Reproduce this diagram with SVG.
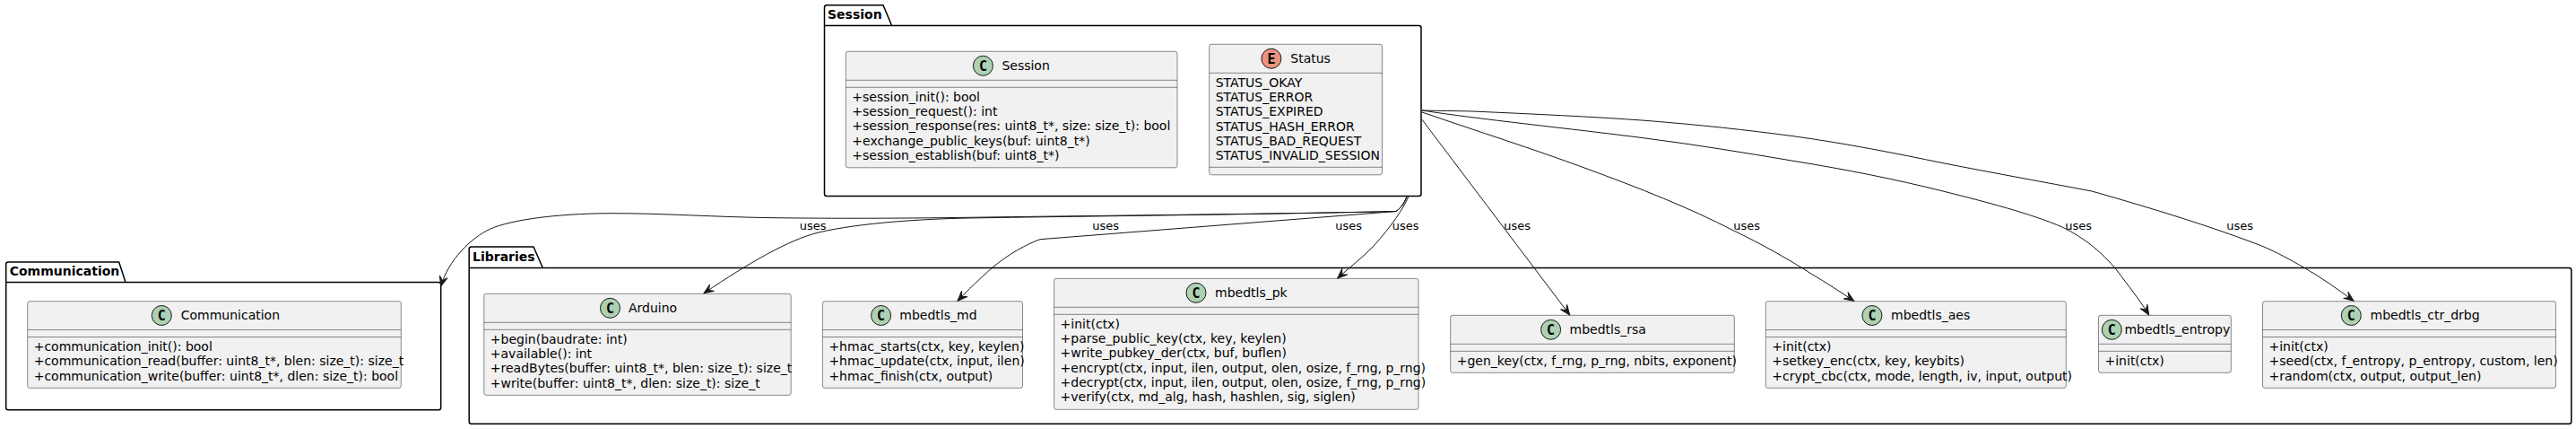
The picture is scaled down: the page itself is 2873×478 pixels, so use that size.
<svg xmlns="http://www.w3.org/2000/svg" width="2873" height="478" viewBox="0 0 2873 478">
<style>
text{font-family:"DejaVu Sans",sans-serif;font-size:14px;fill:#000}
.pk{fill:none;stroke:#000;stroke-width:1.5}
.pt{font-weight:bold}
.box{fill:#F1F1F1;stroke:#181818;stroke-width:.5}
.sep{stroke:#181818;stroke-width:.5}
.ci{fill:#ADD1B2;stroke:#181818;stroke-width:1}
.ce{fill:#EB937F;stroke:#181818;stroke-width:1}
.gl{font-family:"DejaVu Sans Mono",monospace;font-weight:bold;font-size:15px;text-anchor:middle}
.ed{fill:none;stroke:#181818;stroke-width:1;marker-end:url(#ah)}
.lb{font-size:13px}
</style>
<defs><marker id="ah" markerUnits="userSpaceOnUse" markerWidth="14" markerHeight="14" refX="12" refY="7" orient="auto" viewBox="0 0 14 14"><path d="M12,7 L1,2.5 L5.5,7 L1,11.5 Z" fill="#181818" stroke="#181818" stroke-width="1"/></marker></defs>

<g id="pkg-session"><path class="pk" d="M919.5,28.5 V8.2 Q919.5,5.7 922,5.7 H985 L994.6,28.5 H1582.5 Q1585,28.5 1585,31 V216 Q1585,218.5 1582.5,218.5 H922 Q919.5,218.5 919.5,216 Z M919.5,28.5 H994.6"/><text class="pt" x="923" y="21">Session</text></g>
<g id="pkg-communication"><path class="pk" d="M6.7,314.5 V294.5 Q6.7,292 9.2,292 H132.7 L140,314.5 H489.2 Q491.7,314.5 491.7,317 V454.2 Q491.7,456.7 489.2,456.7 H9.2 Q6.7,456.7 6.7,454.2 Z M6.7,314.5 H140"/><text class="pt" x="10.7" y="307">Communication</text></g>
<g id="pkg-libraries"><path class="pk" d="M523.2,298.5 V277.5 Q523.2,275 525.7,275 H595 L605.4,298.5 H2865.3 Q2867.8,298.5 2867.8,301 V469.8 Q2867.8,472.3 2865.3,472.3 H525.7 Q523.2,472.3 523.2,469.8 Z M523.2,298.5 H605.4"/><text class="pt" x="527" y="291">Libraries</text></g>

<g id="session"><rect class="box" x="943.3" y="57.3" width="369.7" height="129.5" rx="2.5"/><line class="sep" x1="943.3" x2="1313" y1="89.3" y2="89.3"/><line class="sep" x1="943.3" x2="1313" y1="97.3" y2="97.3"/><circle class="ci" cx="1096.4" cy="73.3" r="11"/><text class="gl" x="1096.4" y="78.5">C</text><text x="1117.4" y="78">Session</text>
<text x="950.3" y="112.6">+session_init(): bool</text><text x="950.3" y="128.9">+session_request(): int</text><text x="950.3" y="145.2">+session_response(res: uint8_t*, size: size_t): bool</text><text x="950.3" y="161.5">+exchange_public_keys(buf: uint8_t*)</text><text x="950.3" y="177.8">+session_establish(buf: uint8_t*)</text></g>

<g id="status"><rect class="box" x="1348.7" y="49.3" width="192.8" height="145.5" rx="2.5"/><line class="sep" x1="1348.7" x2="1541.5" y1="81.3" y2="81.3"/><line class="sep" x1="1348.7" x2="1541.5" y1="186.3" y2="186.3"/><circle class="ce" cx="1417.9" cy="65.3" r="11"/><text class="gl" x="1417.9" y="70.5">E</text><text x="1439.3" y="70">Status</text>
<text x="1355.7" y="96.6">STATUS_OKAY</text><text x="1355.7" y="112.9">STATUS_ERROR</text><text x="1355.7" y="129.2">STATUS_EXPIRED</text><text x="1355.7" y="145.5">STATUS_HASH_ERROR</text><text x="1355.7" y="161.8">STATUS_BAD_REQUEST</text><text x="1355.7" y="178.1">STATUS_INVALID_SESSION</text></g>

<g id="communication"><rect class="box" x="30.7" y="335.7" width="416.6" height="96.6" rx="2.5"/><line class="sep" x1="30.7" x2="447.3" y1="367.5" y2="367.5"/><line class="sep" x1="30.7" x2="447.3" y1="375.5" y2="375.5"/><circle class="ci" cx="180.3" cy="351.5" r="11"/><text class="gl" x="180.3" y="356.7">C</text><text x="201.7" y="356.3">Communication</text>
<text x="37.7" y="391">+communication_init(): bool</text><text x="37.7" y="407.3">+communication_read(buffer: uint8_t*, blen: size_t): size_t</text><text x="37.7" y="423.6">+communication_write(buffer: uint8_t*, dlen: size_t): bool</text></g>

<g id="arduino"><rect class="box" x="539.8" y="327.3" width="342.4" height="113" rx="2.5"/><line class="sep" x1="539.8" x2="882.2" y1="359.3" y2="359.3"/><line class="sep" x1="539.8" x2="882.2" y1="367.3" y2="367.3"/><circle class="ci" cx="680.5" cy="343.3" r="11"/><text class="gl" x="680.5" y="348.5">C</text><text x="701" y="348.1">Arduino</text>
<text x="546.8" y="382.6">+begin(baudrate: int)</text><text x="546.8" y="398.9">+available(): int</text><text x="546.8" y="415.2">+readBytes(buffer: uint8_t*, blen: size_t): size_t</text><text x="546.8" y="431.5">+write(buffer: uint8_t*, dlen: size_t): size_t</text></g>

<g id="mbedtls_md"><rect class="box" x="917.4" y="335.7" width="223.1" height="96.6" rx="2.5"/><line class="sep" x1="917.4" x2="1140.5" y1="367.5" y2="367.5"/><line class="sep" x1="917.4" x2="1140.5" y1="375.5" y2="375.5"/><circle class="ci" cx="982.6" cy="351.5" r="11"/><text class="gl" x="982.6" y="356.7">C</text><text x="1003.3" y="356.3">mbedtls_md</text>
<text x="924.4" y="391">+hmac_starts(ctx, key, keylen)</text><text x="924.4" y="407.3">+hmac_update(ctx, input, ilen)</text><text x="924.4" y="423.6">+hmac_finish(ctx, output)</text></g>

<g id="mbedtls_pk"><rect class="box" x="1175.6" y="310.3" width="406.4" height="146" rx="2.5"/><line class="sep" x1="1175.6" x2="1582" y1="342.3" y2="342.3"/><line class="sep" x1="1175.6" x2="1582" y1="350.3" y2="350.3"/><circle class="ci" cx="1334" cy="326.3" r="11"/><text class="gl" x="1334" y="331.5">C</text><text x="1355" y="331.1">mbedtls_pk</text>
<text x="1182.6" y="365.6">+init(ctx)</text><text x="1182.6" y="381.9">+parse_public_key(ctx, key, keylen)</text><text x="1182.6" y="398.2">+write_pubkey_der(ctx, buf, buflen)</text><text x="1182.6" y="414.5">+encrypt(ctx, input, ilen, output, olen, osize, f_rng, p_rng)</text><text x="1182.6" y="430.8">+decrypt(ctx, input, ilen, output, olen, osize, f_rng, p_rng)</text><text x="1182.6" y="447.1">+verify(ctx, md_alg, hash, hashlen, sig, siglen)</text></g>

<g id="mbedtls_rsa"><rect class="box" x="1617.7" y="351.3" width="316.6" height="64" rx="2.5"/><line class="sep" x1="1617.7" x2="1934.3" y1="383.3" y2="383.3"/><line class="sep" x1="1617.7" x2="1934.3" y1="391.3" y2="391.3"/><circle class="ci" cx="1729.6" cy="367.3" r="11"/><text class="gl" x="1729.6" y="372.5">C</text><text x="1750.5" y="372.1">mbedtls_rsa</text>
<text x="1624.7" y="406.6">+gen_key(ctx, f_rng, p_rng, nbits, exponent)</text></g>

<g id="mbedtls_aes"><rect class="box" x="1969.3" y="335.7" width="335" height="96.6" rx="2.5"/><line class="sep" x1="1969.3" x2="2304.3" y1="367.5" y2="367.5"/><line class="sep" x1="1969.3" x2="2304.3" y1="375.5" y2="375.5"/><circle class="ci" cx="2087.9" cy="351.5" r="11"/><text class="gl" x="2087.9" y="356.7">C</text><text x="2109" y="356.3">mbedtls_aes</text>
<text x="1976.3" y="391">+init(ctx)</text><text x="1976.3" y="407.3">+setkey_enc(ctx, key, keybits)</text><text x="1976.3" y="423.6">+crypt_cbc(ctx, mode, length, iv, input, output)</text></g>

<g id="mbedtls_entropy"><rect class="box" x="2340.5" y="351.3" width="147.8" height="64" rx="2.5"/><line class="sep" x1="2340.5" x2="2488.3" y1="383.3" y2="383.3"/><line class="sep" x1="2340.5" x2="2488.3" y1="391.3" y2="391.3"/><circle class="ci" cx="2355.3" cy="367.3" r="11"/><text class="gl" x="2355.3" y="372.5">C</text><text x="2369.4" y="372.1">mbedtls_entropy</text>
<text x="2347.5" y="406.6">+init(ctx)</text></g>

<g id="mbedtls_ctr_drbg"><rect class="box" x="2523.5" y="335.7" width="327" height="96.6" rx="2.5"/><line class="sep" x1="2523.5" x2="2850.5" y1="367.5" y2="367.5"/><line class="sep" x1="2523.5" x2="2850.5" y1="375.5" y2="375.5"/><circle class="ci" cx="2622.3" cy="351.5" r="11"/><text class="gl" x="2622.3" y="356.7">C</text><text x="2643.5" y="356.3">mbedtls_ctr_drbg</text>
<text x="2530.5" y="391">+init(ctx)</text><text x="2530.5" y="407.3">+seed(ctx, f_entropy, p_entropy, custom, len)</text><text x="2530.5" y="423.6">+random(ctx, output, output_len)</text></g>

<g id="connectors">
<path class="ed" d="M1569,219 C1566,227 1562,232 1557,235.5 C1450,238 1250,240 1100,242 C1000,243.5 930,243.5 864,242.7 C800,242 740,237.5 680,237.7 C620,238 570,245 547,255 C525,265 500,290 491.7,319"/>
<path class="ed" d="M1569,219 C1566,227 1562,232 1557,235.5 C1400,239 1200,241 1080,243 C1030,244 960,248 913,259 C880,267 835,293 785,326.8"/>
<path class="ed" d="M1569,219 C1566,227 1562,232 1557,235.5 L1160,266.7 C1145,272 1125,283 1107,298 C1092,311 1080,323 1068,335.2"/>
<path class="ed" d="M1571,218.5 C1566,232 1550,254 1533,273 C1520,287 1505,298 1491.7,310"/>
<path class="ed" d="M1586,133.3 L1750.7,350.9"/>
<path class="ed" d="M1586,125 C1650,147 1710,166 1767,187 C1830,210 1885,232 1933,256.7 C1965,272 1995,289 2020,305 C2037,315 2052,325 2067.7,335.3"/>
<path class="ed" d="M1586,123 C1650,133 1750,143 1835,154 C1890,161 1945,170 2000,179.3 C2060,189 2115,200 2167,213 C2215,225 2265,238 2300,253 C2325,265 2345,282 2360,300 C2375,320 2387,335 2396.7,350.9"/>
<path class="ed" d="M1586,123 C1605,123.5 1625,123.5 1642,124 C1710,127 1775,130 1835,134.3 C1895,139 1950,145 2000,151.7 C2060,160 2115,171 2167,181.7 C2225,193 2280,203 2333,213 C2400,232 2465,252 2520,273 C2540,281 2555,290 2570,298.3 C2590,310 2607,322 2625,335.3"/>
<text class="lb" x="891.7" y="255.7">uses</text>
<text class="lb" x="1218.3" y="255.7">uses</text>
<text class="lb" x="1489.3" y="255.7">uses</text>
<text class="lb" x="1552.7" y="255.7">uses</text>
<text class="lb" x="1677.3" y="255.7">uses</text>
<text class="lb" x="1933.3" y="255.7">uses</text>
<text class="lb" x="2303.3" y="255.7">uses</text>
<text class="lb" x="2483.3" y="255.7">uses</text>
</g>
</svg>
